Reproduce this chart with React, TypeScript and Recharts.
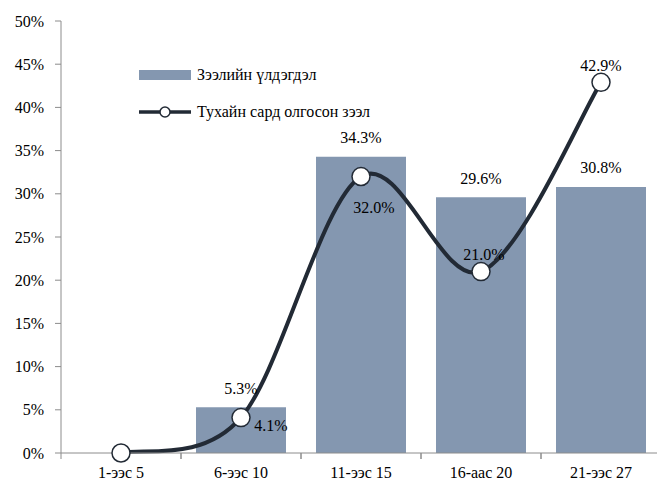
import React from "react";
import { Bar, ComposedChart, Line, XAxis, YAxis, Legend, LabelList } from "recharts";

const categories = ["1-ээс 5", "6-ээс 10", "11-ээс 15", "16-аас 20", "21-ээс 27"];
const balance = [null, 5.3, 34.3, 29.6, 30.8];
const issued = [0, 4.1, 32.0, 21.0, 42.9];
const yTicks = [0, 5, 10, 15, 20, 25, 30, 35, 40, 45, 50];

const barName = "Зээлийн үлдэгдэл";
const lineName = "Тухайн сард олгосон зээл";

const BAR_COLOR = "#8497B0";
const LINE_COLOR = "#222A35";
const AXIS_COLOR = "#8C8C8C";
const FONT = "'Times New Roman', 'DejaVu Serif', serif";

// label offsets for the line values (dx, dy from the point)
const lineLabelOffsets: [number, number][] = [
  [0, 0],
  [30, 8],
  [13, 31],
  [3, -17],
  [0, -17],
];

const data = categories.map((name, i) => ({
  name,
  balance: balance[i],
  issued: issued[i],
}));

// Excel-like smoothed line (Catmull-Rom through the points)
function smoothCurve(context: any) {
  let pts: [number, number][] = [];
  return {
    areaStart() {},
    areaEnd() {},
    lineStart() {
      pts = [];
    },
    lineEnd() {
      const n = pts.length;
      if (!n) return;
      context.moveTo(pts[0][0], pts[0][1]);
      for (let i = 0; i < n - 1; i++) {
        const p0 = pts[Math.max(0, i - 1)];
        const p1 = pts[i];
        const p2 = pts[i + 1];
        const p3 = pts[Math.min(n - 1, i + 2)];
        context.bezierCurveTo(
          p1[0] + (p2[0] - p0[0]) / 6,
          p1[1] + (p2[1] - p0[1]) / 6,
          p2[0] - (p3[0] - p1[0]) / 6,
          p2[1] - (p3[1] - p1[1]) / 6,
          p2[0],
          p2[1]
        );
      }
    },
    point(x: number, y: number) {
      pts.push([x, y]);
    },
  };
}

const XTick = (props: any) => {
  const { x, y, payload, width } = props;
  const half = payload.offset || width / categories.length / 2;
  return (
    <g>
      <line x1={x - half} x2={x - half} y1={y} y2={y + 6} stroke={AXIS_COLOR} />
      <line x1={x + half} x2={x + half} y1={y} y2={y + 6} stroke={AXIS_COLOR} />
      <text x={x} y={y + 25} textAnchor="middle" fill="#000" style={{ fontSize: 16, fontFamily: FONT }}>
        {payload.value}
      </text>
    </g>
  );
};

const LineLabel = (props: any) => {
  const { x, y, value, index } = props;
  if (index === 0 || value == null) return null;
  const [dx, dy] = lineLabelOffsets[index];
  return (
    <text
      x={x + dx}
      y={y + dy}
      textAnchor="middle"
      dominantBaseline="central"
      fill="#000"
      style={{ fontSize: 16, fontFamily: FONT }}
    >
      {value.toFixed(1)}%
    </text>
  );
};

const BarLabel = (props: any) => {
  const { x, y, width, value } = props;
  if (value == null) return null;
  return (
    <text
      x={x + width / 2}
      y={y - 19}
      textAnchor="middle"
      dominantBaseline="central"
      fill="#000"
      style={{ fontSize: 16, fontFamily: FONT }}
    >
      {Number(value).toFixed(1)}%
    </text>
  );
};

const LegendBox = () => (
  <div style={{ fontFamily: FONT, fontSize: 16, color: "#000", lineHeight: "20px" }}>
    <div style={{ display: "flex", alignItems: "center", height: 20 }}>
      <div style={{ width: 52, height: 10, background: BAR_COLOR, marginRight: 6 }} />
      <span>{barName}</span>
    </div>
    <div style={{ display: "flex", alignItems: "center", height: 20, marginTop: 17 }}>
      <svg width={52} height={12} style={{ marginRight: 6 }}>
        <line x1={0} x2={52} y1={6} y2={6} stroke={LINE_COLOR} strokeWidth={3.5} />
        <circle cx={26} cy={6} r={5} fill="#fff" stroke={LINE_COLOR} strokeWidth={1.5} />
      </svg>
      <span>{lineName}</span>
    </div>
  </div>
);

export default function App() {
  return (
    <div
      style={{
        position: "absolute",
        left: 0,
        top: 0,
        width: 657,
        height: 481,
        overflow: "hidden",
        background: "#fff",
        fontFamily: FONT,
      }}
    >
      <ComposedChart
        width={665}
        height={481}
        data={data}
        margin={{ top: 21, right: 4, left: 0, bottom: 0 }}
        barCategoryGap="12.5%"
        style={{ fontFamily: FONT }}
      >
        <XAxis
          dataKey="name"
          height={28}
          axisLine={{ stroke: AXIS_COLOR }}
          tickLine={false}
          tickSize={0}
          tickMargin={0}
          tick={<XTick />}
          interval={0}
        />
        <YAxis
          width={61}
          domain={[0, 50]}
          ticks={yTicks}
          tickFormatter={(v) => `${v}%`}
          axisLine={{ stroke: AXIS_COLOR }}
          tickLine={{ stroke: AXIS_COLOR }}
          tickSize={6}
          tickMargin={11}
          tick={{ fill: "#000", fontSize: 16, style: { fontFamily: FONT } }}
          interval={0}
        />
        <Legend
          layout="vertical"
          align="center"
          verticalAlign="middle"
          content={<LegendBox />}
          wrapperStyle={{ left: 139, top: 65, width: "auto" }}
        />
        <Bar dataKey="balance" name={barName} fill={BAR_COLOR} isAnimationActive={false}>
          <LabelList dataKey="balance" content={<BarLabel />} />
        </Bar>
        <Line
          dataKey="issued"
          name={lineName}
          type={smoothCurve as any}
          stroke={LINE_COLOR}
          strokeWidth={4}
          dot={{ r: 9, fill: "#fff", stroke: LINE_COLOR, strokeWidth: 1.5 }}
          activeDot={false}
          isAnimationActive={false}
        >
          <LabelList dataKey="issued" content={<LineLabel />} />
        </Line>
      </ComposedChart>
    </div>
  );
}
